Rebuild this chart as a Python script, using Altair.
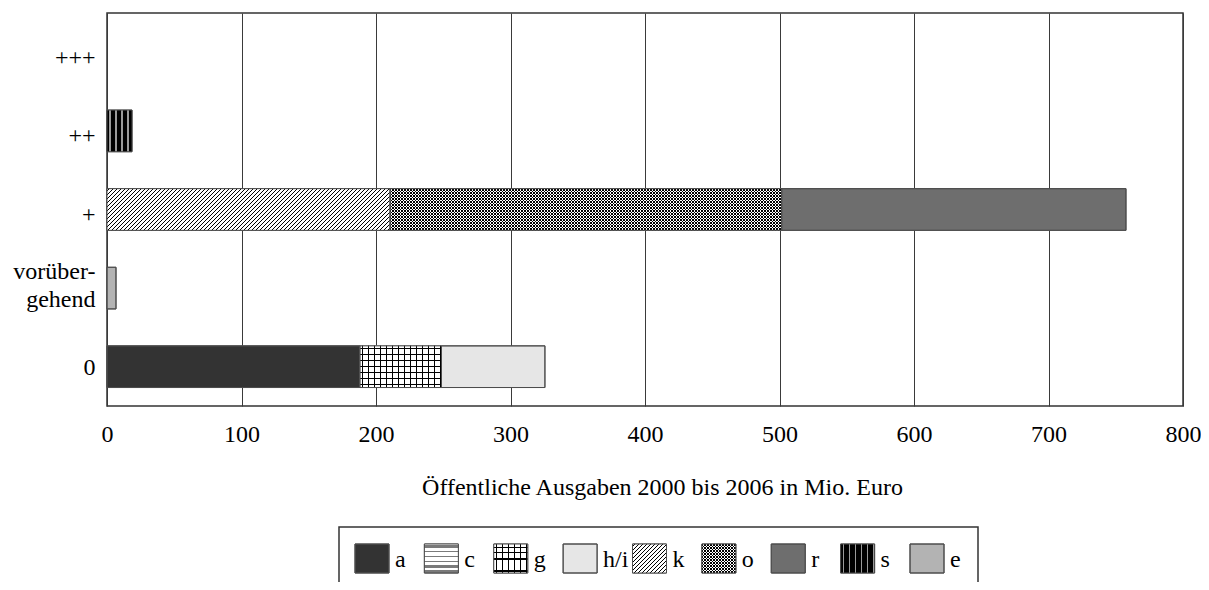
import math
import altair as alt
import pandas as pd

# ---------------- data ----------------
categories = ["+++", "++", "+", "vorübergehend", "0"]
bar_category = ["0", "0", "0", "vorübergehend", "+", "+", "+", "++"]
bar_series = ["a", "g", "h/i", "e", "k", "o", "r", "s"]
bar_value = [188, 60.7, 76.9, 6.7, 210.4, 291.2, 256, 18.6]
legend_series = ["a", "c", "g", "h/i", "k", "o", "r", "s", "e"]
x_ticks = [0, 100, 200, 300, 400, 500, 600, 700, 800]
x_title = "Öffentliche Ausgaben 2000 bis 2006 in Mio. Euro"

# ---------------- styles ----------------
FONT = "Liberation Serif"
FS = 24
W, H = 1076, 393
X_MAX = 800
PX = W / X_MAX
Y_PAD_INNER = 0.47
TRANSP = "rgba(0,0,0,0)"
STROKE = "#4d4d4d"

solid = {"a": "#333333", "c": "#ffffff", "g": "#ffffff", "h/i": "#e6e6e6",
         "k": "#ffffff", "o": "#ffffff", "r": "#6e6e6e", "s": "#000000",
         "e": "#b3b3b3"}
# (direction, period px, line width px, line colour, background colour)
patterns = {
    "c": [("h", 5.0, 2.0, "#7a7a7a", "#ffffff")],
    "g": [("v", 6.0, 1.0, "#000000", "#ffffff"), ("h", 6.0, 1.0, "#000000", TRANSP)],
    "k": [("up", 4.0, 1.0, "#000000", "#ffffff")],
    "o": [("up", 3.0, 1.0, "#000000", "#ffffff"), ("down", 3.0, 1.0, "#000000", TRANSP)],
    "s": [("v", 6.0, 1.6, "#9a9a9a", "#000000")],
}
TILE = 48.0   # px; a multiple of every diagonal period
OVER = 0.6    # px overlap between neighbouring tiles


def gradient(kind, w, h, period, lw, line, bg):
    if kind == "v":
        span, g = w, dict(x1=0, y1=0, x2=1, y2=0)
    elif kind == "h":
        span, g = h, dict(x1=0, y1=0, x2=0, y2=1)
    else:
        s = (w + h) * w / (w * w + h * h)
        span = w + h
        if kind == "up":
            g = dict(x1=0, y1=0, x2=s, y2=s * h / w)
        else:
            g = dict(x1=0, y1=1, x2=s, y2=1 - s * h / w)
    stops = [{"offset": 0, "color": bg}]
    k = 0
    while k * period < span:
        a = min(1.0, (k * period + (period - lw) / 2) / span)
        b = min(1.0, (k * period + (period + lw) / 2) / span)
        stops += [{"offset": round(a, 6), "color": bg}, {"offset": round(a, 6), "color": line},
                  {"offset": round(b, 6), "color": line}, {"offset": round(b, 6), "color": bg}]
        k += 1
    stops.append({"offset": 1, "color": bg})
    return {"gradient": "linear", **g, "stops": stops}


# ---------------- tables ----------------
bars = pd.DataFrame({"category": bar_category, "series": bar_series, "value": bar_value})
bars["end"] = bars.groupby("category")["value"].cumsum()
bars["start"] = bars["end"] - bars["value"]
leg = pd.DataFrame({"series": legend_series})
box = pd.DataFrame({"k": [0]})

fill_scale = alt.Scale(domain=legend_series, range=[solid[s] for s in legend_series])
x_scale = alt.Scale(domain=[0, X_MAX], nice=False, zero=True)
label_offset = {
    "condition": [
        {"test": "datum.value === 'vorübergehend'", "value": -16},
        {"test": "datum.value === '0'", "value": 1},
    ],
    "value": 5.5,
}
y_enc = alt.Y("category:N", sort=categories,
              scale=alt.Scale(domain=categories, paddingInner=Y_PAD_INNER, paddingOuter=Y_PAD_INNER / 2),
              axis=alt.Axis(title=None, ticks=False, tickSize=0, domain=False, grid=False,
                            labelFont=FONT, labelFontSize=FS, labelColor="black",
                            labelPadding=12, labelLineHeight=28, labelOffset=label_offset,
                            labelExpr="datum.value === 'vorübergehend' ? ['vorüber-', 'gehend'] : datum.label"))

x_axis = alt.Axis(values=x_ticks, format="d", ticks=False, tickSize=0, domain=False,
                  grid=True, gridColor="#3a3a3a", gridWidth=1,
                  labelFont=FONT, labelFontSize=FS, labelColor="black", labelPadding=16,
                  labelFlush=False, labelOverlap=False,
                  title=x_title, titleFont=FONT, titleFontSize=FS, titleFontWeight="normal",
                  titleColor="black", titleBaseline="alphabetic", titleY=88, titleX=555,
                  titleAlign="center")

base = alt.Chart(bars).mark_bar(stroke=STROKE, strokeWidth=1).encode(
    x=alt.X("start:Q", scale=x_scale, axis=x_axis),
    x2="end:Q",
    y=y_enc,
    fill=alt.Fill("series:N", scale=fill_scale, legend=None),
)

step = H / 5.0
bar_h = step * (1 - Y_PAD_INNER)
t_data = TILE / PX
ov_data = OVER / PX
layers = [base]


def tile_layer(ser, idx_expr, ts_expr, te_expr, grad):
    return (alt.Chart(bars).transform_filter(alt.datum.series == ser)
            .transform_calculate(idx=idx_expr)
            .transform_flatten(["idx"])
            .transform_calculate(ts=ts_expr, te=te_expr)
            .mark_bar(fill=grad, strokeWidth=0)
            .encode(x=alt.X("ts:Q", scale=x_scale, axis=None), x2="te:Q", y=y_enc))


for ser, val in zip(bar_series, bar_value):
    if ser not in patterns:
        continue
    w_bar = val * PX
    for kind, period, lw, line, bg in patterns[ser]:
        if kind in ("up", "down") and w_bar > 2 * TILE:
            m_full = int(w_bar // TILE)
            rest = w_bar - m_full * TILE
            layers.append(tile_layer(
                ser, f"sequence(0, {m_full})",
                f"datum.start + datum.idx * {t_data}",
                f"datum.start + (datum.idx + 1) * {t_data} + {ov_data}",
                gradient(kind, TILE + OVER, bar_h, period, lw, line, bg)))
            if rest > 0.5:
                layers.append(tile_layer(
                    ser, "[0]",
                    f"datum.start + {m_full} * {t_data}",
                    "datum.end",
                    gradient(kind, rest, bar_h, period, lw, line, bg)))
        else:
            layers.append(tile_layer(ser, "[0]", "datum.start", "datum.end",
                                     gradient(kind, w_bar, bar_h, period, lw, line, bg)))
layers.append(
    alt.Chart(bars).mark_bar(fill="transparent", stroke=STROKE, strokeWidth=1)
    .encode(x=alt.X("start:Q", scale=x_scale, axis=None), x2="end:Q", y=y_enc)
)

# ---------------- legend ----------------
LEG_RANGE = [248, 837]
LEG_PAD = 0.51
leg_scale = alt.Scale(type="band", domain=legend_series, paddingInner=LEG_PAD, paddingOuter=0,
                      range=LEG_RANGE)
leg_x = alt.X("series:N", scale=leg_scale, axis=None)
sym_w = (LEG_RANGE[1] - LEG_RANGE[0]) / (len(legend_series) - LEG_PAD) * (1 - LEG_PAD)
sym_h = 29
SY, SY2 = 531, 560

layers.append(
    alt.Chart(leg).mark_bar(stroke=STROKE, strokeWidth=1).encode(
        x=leg_x, y=alt.value(SY), y2=alt.value(SY2),
        fill=alt.Fill("series:N", scale=fill_scale, legend=None))
)
for ser in legend_series:
    if ser not in patterns:
        continue
    for kind, period, lw, line, bg in patterns[ser]:
        layers.append(
            alt.Chart(leg).transform_filter(alt.datum.series == ser)
            .mark_bar(fill=gradient(kind, sym_w, sym_h, period, lw, line, bg), strokeWidth=0)
            .encode(x=leg_x, y=alt.value(SY), y2=alt.value(SY2))
        )
layers.append(
    alt.Chart(leg).mark_bar(fill="transparent", stroke=STROKE, strokeWidth=1)
    .encode(x=leg_x, y=alt.value(SY), y2=alt.value(SY2))
)
layers.append(
    alt.Chart(leg).mark_text(align="left", baseline="alphabetic", dx=sym_w / 2 + 6,
                             font=FONT, fontSize=FS, color="black")
    .encode(x=leg_x, y=alt.value(554), text="series:N")
)
layers.append(
    alt.Chart(box).mark_rect(fill="transparent", stroke="#333333", strokeWidth=1.5)
    .encode(x=alt.value(232), x2=alt.value(871), y=alt.value(514), y2=alt.value(640))
)

chart = alt.layer(*layers).resolve_scale(x="independent").properties(
    width=W, height=H,
    autosize=alt.AutoSizeParams(type="none"),
    padding={"left": 99, "top": 5, "right": 18, "bottom": 176},
).configure_view(stroke="#333333", strokeWidth=1.5)

chart.save("out.html", embed_options={"renderer": "svg", "actions": False})
